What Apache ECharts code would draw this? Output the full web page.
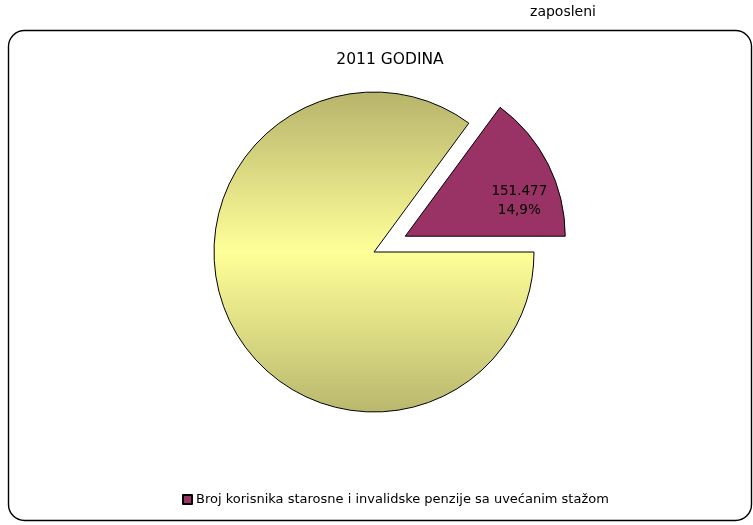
<!DOCTYPE html>
<html>
<head>
<meta charset="utf-8">
<script src="https://cdn.jsdelivr.net/npm/echarts@6/dist/echarts.min.js"></script>
<style>html,body{margin:0;padding:0;background:#fff;}#chart{width:753px;height:525px;}</style>
</head>
<body>
<div id="chart"></div>
<script>
const categories = ['Broj korisnika starosne i invalidske penzije sa uvećanim stažom', 'zaposleni'];
const values = [151477, 865150];
const titleText = '2011 GODINA';
const sideLabel = 'zaposleni';

const chart = echarts.init(document.getElementById('chart'), null, {renderer: 'canvas'});
const FONT = 'DejaVu Sans';
const fmtNum = v => String(v).replace(/\B(?=(\d{3})+(?!\d))/g, '.');

chart.setOption({
  animation: false,
  backgroundColor: '#ffffff',
  graphic: [
    {type: 'rect', shape: {x: 8.5, y: 30.5, width: 743, height: 490, r: 16},
     style: {fill: 'none', stroke: '#000', lineWidth: 1.4}, z: 0},
    {type: 'text', x: 390, y: 60, style: {text: titleText, textAlign: 'center', textVerticalAlign: 'middle',
      font: '15.5px "' + FONT + '"', fill: '#000'}},
    {type: 'text', x: 563, y: 12, style: {text: sideLabel, textAlign: 'center', textVerticalAlign: 'middle',
      font: '14px "' + FONT + '"', fill: '#000'}}
  ],
  legend: {
    data: [categories[0]],
    left: 177, top: 488,
    itemWidth: 9, itemHeight: 9, itemGap: 4,
    icon: 'rect',
    textStyle: {fontFamily: FONT, fontSize: 13, color: '#000', padding: [0, 0, 0, -1]}
  },
  series: [{
    type: 'pie',
    center: [374, 252],
    radius: [0, 160],
    startAngle: 0,
    clockwise: false,
    selectedMode: 'single',
    selectedOffset: 35,
    label: {show: false},
    labelLine: {show: false},
    emphasis: {disabled: true},
    itemStyle: {borderColor: '#000', borderWidth: 1},
    data: [
      {name: categories[0], value: values[0], selected: true,
       itemStyle: {color: '#993366'},
       label: {show: true, position: 'inside', fontFamily: FONT, fontSize: 13.5, color: '#000', lineHeight: 19,
         formatter: p => fmtNum(p.value) + '\n' + p.percent.toFixed(1).replace('.', ',') + '%'}},
      {name: categories[1], value: values[1],
       itemStyle: {color: new echarts.graphic.LinearGradient(0, 0, 0, 1, [
         {offset: 0, color: '#b7b46c'},
         {offset: 0.5, color: '#ffff99'},
         {offset: 1, color: '#b9b86e'}
       ])}}
    ],
    labelLayout: function (params) {
      if (params.dataIndex === 0) return {dx: 40, dy: 2};
      return {};
    }
  }]
});
</script>
</body>
</html>
